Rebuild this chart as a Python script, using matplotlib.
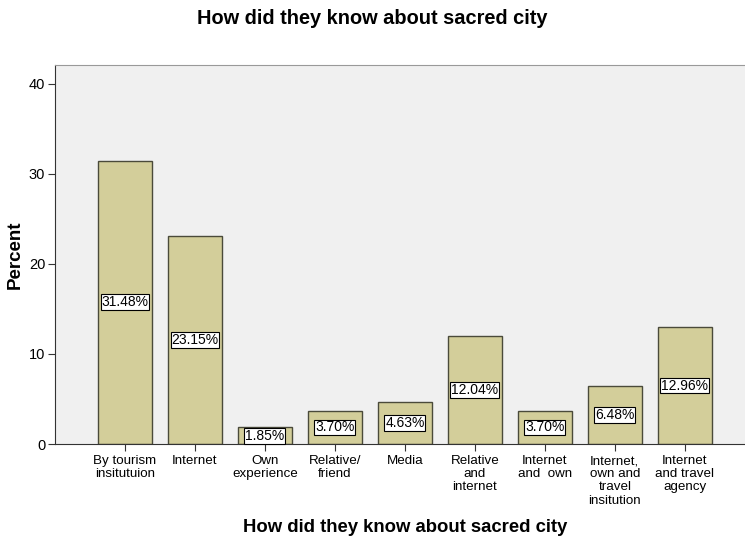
import matplotlib
matplotlib.use("Agg")
import matplotlib.pyplot as plt

plt.rcParams['font.family'] = ['Liberation Sans', 'DejaVu Sans']

categories = ["By tourism\ninsitutuion", "Internet", "Own\nexperience",
              "Relative/\nfriend", "Media", "Relative\nand\ninternet",
              "Internet\nand  own", "Internet,\nown and\ntravel\ninsitution",
              "Internet\nand travel\nagency"]
percent = [31.48, 23.15, 1.85, 3.70, 4.63, 12.04, 3.70, 6.48, 12.96]

fig = plt.figure(figsize=(7.45, 5.39), dpi=100)
ax = fig.add_axes([55 / 745, 95 / 539, 690 / 745, 379 / 539])
ax.set_facecolor("#f0f0f0")

x = range(len(categories))
ax.bar(x, percent, width=0.77, color="#d3ce9a", edgecolor="#4a4a3a", linewidth=1.0)

for xi, v in zip(x, percent):
    ax.text(xi, v / 2, "%.2f%%" % v, ha="center", va="center", fontsize=10,
            bbox=dict(boxstyle="square,pad=0.06", facecolor="white",
                      edgecolor="black", linewidth=0.8))

ax.set_xlim(-1.0, 8.86)
ax.set_ylim(0, 42.1)
ax.set_yticks([0, 10, 20, 30, 40])
ax.set_xticks(list(x))
ax.set_xticklabels(categories, fontsize=9.6, linespacing=1.13)
ax.tick_params(axis="y", labelsize=10.5, length=5, color="#333333", pad=2)
ax.tick_params(axis="x", length=5, color="#333333", pad=3)

ax.spines["right"].set_visible(False)
ax.spines["top"].set_color("#999999")
ax.spines["left"].set_color("#333333")
ax.spines["bottom"].set_color("#333333")

ax.set_ylabel("Percent", fontsize=13.5, fontweight="bold", labelpad=4)
fig.text(405 / 745, 1 - 527 / 539, "How did they know about sacred city",
         ha="center", va="center", fontsize=13.3, fontweight="bold")
fig.text(372 / 745, 1 - 18 / 539, "How did they know about sacred city",
         ha="center", va="center", fontsize=14.4, fontweight="bold")

fig.savefig("out.png", dpi=100)
